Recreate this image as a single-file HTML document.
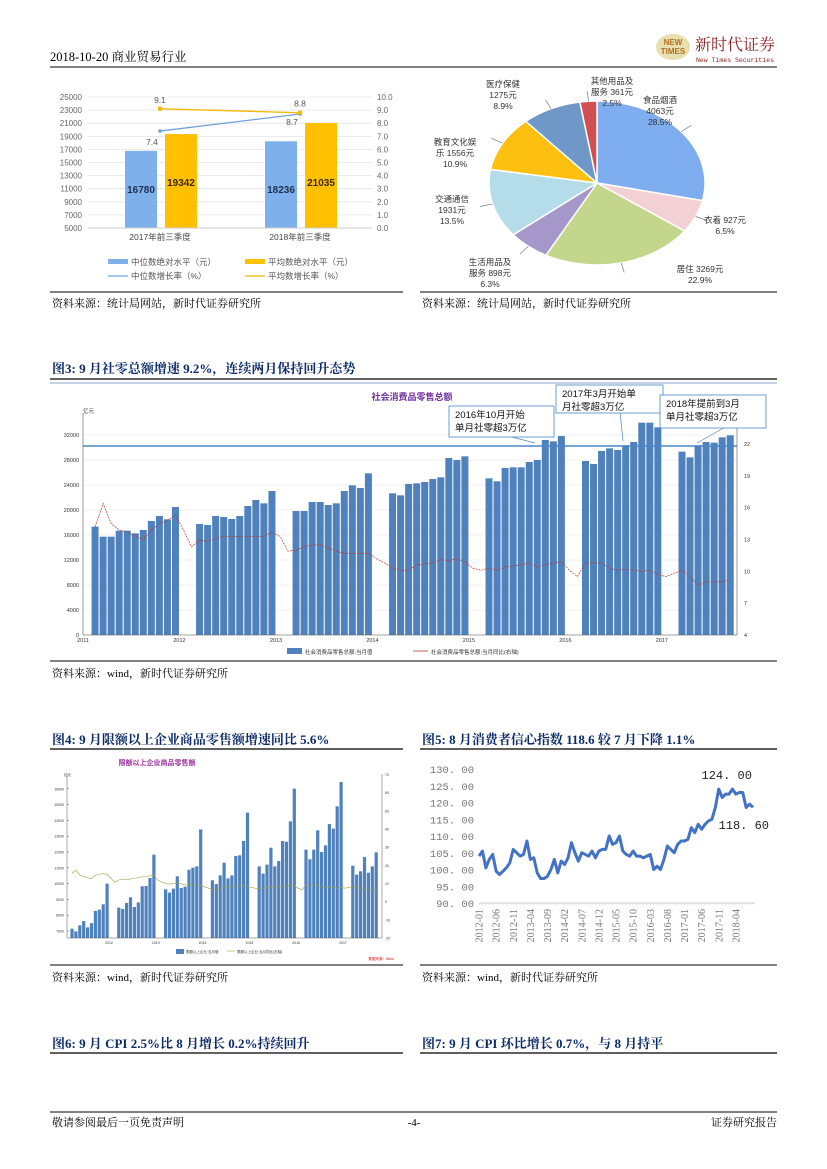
<!DOCTYPE html>
<html><head><meta charset="utf-8"><style>
html,body{margin:0;padding:0;background:#fff}
svg{display:block}
text{font-family:"Liberation Sans","Noto Sans CJK SC",sans-serif}
.serif{font-family:"Liberation Serif","Noto Serif CJK SC",serif}
</style></head><body>
<svg id="pg" width="827" height="1169" viewBox="0 0 827 1169" xmlns="http://www.w3.org/2000/svg">
<text x="50" y="61" font-size="12.5" fill="#000" class="serif">2018-10-20  商业贸易行业</text>
<g>
<ellipse cx="673" cy="47" rx="17" ry="13" fill="#e8dfb0"/>
<text x="673" y="45" font-size="8" fill="#b07020" text-anchor="middle" font-weight="bold">NEW</text>
<text x="673" y="54" font-size="8" fill="#b07020" text-anchor="middle" font-weight="bold">TIMES</text>
<text x="695" y="50" font-size="16" fill="#8b1a1a" class="serif">新时代证券</text>
<text x="696" y="62" font-size="6.5" fill="#8b1a1a" style="font-family:'Liberation Mono',monospace">New Times Securities</text>
</g>
<line x1="50" y1="67" x2="777" y2="67" stroke="#000" stroke-width="1"/>

<g id="c1"></g>
<g id="c2"></g>
<line x1="50" y1="292" x2="403" y2="292" stroke="#000"/>
<line x1="420" y1="292" x2="777" y2="292" stroke="#000"/>
<text x="52" y="307" font-size="11" class="serif">资料来源：统计局网站，新时代证券研究所</text>
<text x="422" y="307" font-size="11" class="serif">资料来源：统计局网站，新时代证券研究所</text>

<text x="52" y="373" font-size="13" font-weight="bold" fill="#0b2a6a" class="serif">图3:    9 月社零总额增速 9.2%，连续两月保持回升态势</text>
<line x1="50" y1="379" x2="777" y2="379" stroke="#000" stroke-width="1.2"/>
<g id="c3"></g>
<line x1="50" y1="661" x2="777" y2="661" stroke="#000"/>
<text x="52" y="677" font-size="11" class="serif">资料来源：wind，新时代证券研究所</text>

<text x="52" y="744" font-size="13" font-weight="bold" fill="#0b2a6a" class="serif">图4:    9 月限额以上企业商品零售额增速同比 5.6%</text>
<text x="422" y="744" font-size="13" font-weight="bold" fill="#0b2a6a" class="serif">图5:    8 月消费者信心指数 118.6 较 7 月下降 1.1%</text>
<line x1="50" y1="749" x2="403" y2="749" stroke="#000" stroke-width="1.2"/>
<line x1="420" y1="749" x2="777" y2="749" stroke="#000" stroke-width="1.2"/>
<g id="c4"></g>
<g id="c5"></g>
<line x1="50" y1="965" x2="403" y2="965" stroke="#000"/>
<line x1="420" y1="965" x2="777" y2="965" stroke="#000"/>
<text x="52" y="981" font-size="11" class="serif">资料来源：wind，新时代证券研究所</text>
<text x="422" y="981" font-size="11" class="serif">资料来源：wind，新时代证券研究所</text>

<text x="52" y="1048" font-size="13" font-weight="bold" fill="#0b2a6a" class="serif">图6:    9 月 CPI 2.5%比 8 月增长 0.2%持续回升</text>
<text x="422" y="1048" font-size="13" font-weight="bold" fill="#0b2a6a" class="serif">图7:    9 月 CPI 环比增长 0.7%，与 8 月持平</text>
<line x1="50" y1="1053" x2="403" y2="1053" stroke="#000" stroke-width="1.2"/>
<line x1="420" y1="1053" x2="777" y2="1053" stroke="#000" stroke-width="1.2"/>

<line x1="50" y1="1112" x2="777" y2="1112" stroke="#000"/>
<text x="52" y="1126" font-size="11" class="serif">敬请参阅最后一页免责声明</text>
<text x="414" y="1126" font-size="11" class="serif" text-anchor="middle">-4-</text>
<text x="777" y="1126" font-size="11" class="serif" text-anchor="end">证券研究报告</text>
</svg>
<script>
const c1Categories = ["2017年前三季度", "2018年前三季度"];
const c1Median = [16780, 18236];
const c1Mean = [19342, 21035];
const c1MedianGrowth = [7.4, 8.7];
const c1MeanGrowth = [9.1, 8.8];
const c1LeftTicks = [5000, 7000, 9000, 11000, 13000, 15000, 17000, 19000, 21000, 23000, 25000];
const c1RightTicks = [0, 1, 2, 3, 4, 5, 6, 7, 8, 9, 10];

const pieLabels = ["食品烟酒", "衣着", "居住", "生活用品及服务", "交通通信", "教育文化娱乐", "医疗保健", "其他用品及服务"];
const pieValues = [4063, 927, 3269, 898, 1931, 1556, 1275, 361];
const piePercents = ["28.5%", "6.5%", "22.9%", "6.3%", "13.5%", "10.9%", "8.9%", "2.5%"];

const c3Bars = [
 null,17333,15733,15733,16693,16693,16267,16800,18240,19040,18507,20480,
 null,null,17760,17600,19040,18880,18560,19040,20640,21600,21067,23040,
 null,null,19840,19840,21280,21280,20800,21067,23040,23947,23520,25867,
 null,null,22667,22347,24160,24267,24480,24960,25227,28320,28000,28587,
 null,null,25067,24587,26720,26827,26827,27680,28000,31200,30987,31840,
 null,null,27840,27360,29440,29867,29600,30347,30880,33973,33973,33227,
 null,null,29333,28427,30347,30880,30773,31627,31947];
const c3Line = [
 null,14.2,16.4,14.5,13.9,13.7,13.3,13.0,13.9,14.5,14.8,15.3,
 13.9,12.3,13.0,12.8,13.1,13.3,13.3,13.3,13.3,13.3,13.3,13.7,
 13.3,11.9,12.0,12.3,12.5,12.5,12.2,11.9,11.7,11.7,11.7,11.7,
 11.2,10.8,10.3,10.1,10.1,10.6,10.7,10.8,11.1,11.0,11.2,10.9,
 10.3,10.1,10.3,10.1,10.4,10.5,10.6,10.8,10.4,10.6,10.8,10.9,
 10.1,9.5,10.8,10.8,10.8,10.3,10.1,10.2,10.1,10.0,10.1,9.7,
 9.5,9.8,10.1,9.5,8.7,9.0,9.0,9.0,9.2];
const c3YearLabels = ["2011","2012","2013","2014","2015","2016","2017"];
const c3LeftTicks = [0,4000,8000,12000,16000,20000,24000,28000,32000];
const c3RightTicks = [4,7,10,13,16,19,22];

const c4Bars = [
 7150,6980,7360,7630,7230,7500,8270,8350,8690,10000,
 null,null,8480,8390,8770,9130,8520,8810,9830,9850,10350,11830,
 null,null,9640,9430,9680,10460,9720,9810,10880,11010,11090,13430,
 null,null,10210,9970,10520,11320,10330,10520,11750,11790,12700,14490,
 null,null,11090,10630,11200,12270,11090,11430,12700,12650,13940,16010,
 null,null,12150,11540,12150,13370,12000,12420,13770,13480,14890,16430,
 null,null,11130,10570,10780,11680,10690,11090,11980];
const c4Line = [
 15.6,17.4,14.6,13.7,13.2,12.5,14.6,15.0,15.4,15.0,
 12.8,10.7,11.9,12.5,12.1,12.5,12.8,13.2,13.7,13.7,14.3,14.6,
 11.9,10.7,10.1,9.6,10.1,10.3,9.8,9.2,9.2,9.2,9.2,8.9,
 8.1,7.4,6.5,7.1,7.4,7.8,8.1,8.3,8.3,8.7,8.7,8.3,
 7.8,7.4,7.1,7.4,7.8,8.0,8.0,8.5,8.3,8.7,9.2,8.9,
 7.4,6.5,9.2,9.2,9.2,8.9,8.3,7.8,7.8,7.8,7.4,7.8,
 7.4,7.8,8.3,7.8,7.4,6.5,6.1,6.5,6.5];
const c4YearLabels = ["2012","2013","2014","2015","2016","2017"];
const c4LeftTicks = [7000,8000,9000,10000,11000,12000,13000,14000,15000,16000];
const c4RightTicks = [-20,-10,0,10,20,30,40,50,60,70];

const c5Values = [
 104,105.5,100.5,103,104.5,99.5,98.5,99.5,100.5,102,106,105,
 104,104.5,108.5,103,103.5,99,97.3,97.3,98,100,103,99,
 102.5,101.5,103.5,108,105,102.5,105,104.5,104,105.5,103.5,105.5,
 106,106,110,107.5,108,110,105.5,104.5,104,105.5,104,104,
 103.5,104,104.5,100,101,100,103,107,106,105,107.5,108.5,
 108.5,109,112.5,111,113.5,112,113.5,114.5,115,118.5,124,121.5,
 122.5,122.5,124,122.5,123,123,118.5,119.5,118.6];
const c5XLabels = ["2012-01","2012-06","2012-11","2013-04","2013-09","2014-02","2014-07","2014-12","2015-05","2015-10","2016-03","2016-08","2017-01","2017-06","2017-11","2018-04"];
const c5YTicks = [90,95,100,105,110,115,120,125,130];

const NS = "http://www.w3.org/2000/svg";
function mk(parent, tag, attrs, txt){
  const e = document.createElementNS(NS, tag);
  for (const k in attrs) e.setAttribute(k, attrs[k]);
  if (txt !== undefined) e.textContent = txt;
  parent.appendChild(e);
  return e;
}

(function(){
  const g = document.getElementById('c1');
  const y = v => 228 - (v - 5000) / 20000 * 131;
  const yr = v => 228 - v / 10 * 131;
  const cx = i => 160 + i * 140;
  c1LeftTicks.forEach(t => {
    const l = mk(g,'line',{x1:88,x2:372,y1:y(t),y2:y(t),stroke:'#e4e4e4','stroke-width':0.8});
    
    
    const tx = mk(g,'text',{x:82,y:y(t)+3,'font-size':8,'text-anchor':'end',fill:'#666'},String(t));
    
    
  });
  c1RightTicks.forEach(t => {
    const tx = mk(g,'text',{x:377,y:yr(t)+3,'font-size':8,fill:'#666'},t.toFixed(1));
    
    
  });
  c1Categories.forEach((c,i) => {
    const b1 = mk(g,'rect',{x:cx(i)-35,y:y(c1Median[i]),width:32,height:228-y(c1Median[i]),fill:'#7eb0ec'});
    
    
    const b2 = mk(g,'rect',{x:cx(i)+5,y:y(c1Mean[i]),width:32,height:228-y(c1Mean[i]),fill:'#ffc000'});
    
    
    const t1 = mk(g,'text',{x:cx(i)-19,y:193,'font-size':10,'font-weight':'bold','text-anchor':'middle',fill:'#1f2f4f'},String(c1Median[i]));
    
    
    const t2 = mk(g,'text',{x:cx(i)+21,y:186,'font-size':10,'font-weight':'bold','text-anchor':'middle',fill:'#3a2a00'},String(c1Mean[i]));
    
    
    const cl = mk(g,'text',{x:cx(i),y:240,'font-size':8.5,'text-anchor':'middle',fill:'#444'},c);
    
    
  });
  const ax = mk(g,'line',{x1:88,x2:372,y1:228,y2:228,stroke:'#ccc'});
  
  
  const p1 = c1MedianGrowth.map((v,i)=>`${cx(i)},${yr(v)}`).join(' ');
  const p2 = c1MeanGrowth.map((v,i)=>`${cx(i)},${yr(v)}`).join(' ');
  const l1 = mk(g,'polyline',{points:p1,fill:'none',stroke:'#6fa0dc','stroke-width':1.3});
  
  
  const l2 = mk(g,'polyline',{points:p2,fill:'none',stroke:'#f4b800','stroke-width':1.3});
  
  
  c1MedianGrowth.forEach((v,i)=>{
    const m = mk(g,'circle',{cx:cx(i),cy:yr(v),r:1.8,fill:'#6fa0dc'});
    
    
    const t = mk(g,'text',{x:cx(i)-8,y:yr(v)+ (i==0?14:11),'font-size':8.5,'text-anchor':'middle',fill:'#555'},v.toFixed(1));
    
    
  });
  c1MeanGrowth.forEach((v,i)=>{
    const m = mk(g,'rect',{x:cx(i)-2,y:yr(v)-2,width:4,height:4,fill:'#f4b800'});
    
    
    const t = mk(g,'text',{x:cx(i),y:yr(v)-6,'font-size':8.5,'text-anchor':'middle',fill:'#555'},v.toFixed(1));
    
    
  });
  const leg = [
    ['rect','#7eb0ec',108,262,'中位数绝对水平（元）'],
    ['rect','#ffc000',245,262,'平均数绝对水平（元）'],
    ['line','#6fa0dc',108,276,'中位数增长率（%）'],
    ['line','#f4b800',245,276,'平均数增长率（%）']];
  leg.forEach(L=>{
    let s;
    if (L[0]==='rect') s = mk(g,'rect',{x:L[2],y:L[3]-3,width:20,height:5,fill:L[1]});
    else s = mk(g,'line',{x1:L[2],x2:L[2]+20,y1:L[3],y2:L[3],stroke:L[1],'stroke-width':1.3});
    
    
    const t = mk(g,'text',{x:L[2]+23,y:L[3]+3,'font-size':8.5,fill:'#555'},L[4]);
    
    
  });
})();

(function(){
  const g = document.getElementById('c2');
  const colors = ['#7eaef0','#f2d0d4','#c4d68c','#a597c9','#b5dde9','#fdc010','#6f97c8','#d24e50'];
  const cx=597, cy=183, rx=108, ry=82;
  const total = pieValues.reduce((a,b)=>a+b,0);
  let a0 = -Math.PI/2;
  const labelPos = [[660,103,'食品烟酒','4063元'],[725,223,'衣着 927元',''],[700,272,'居住 3269元',''],[490,265,'生活用品及','服务 898元'],[452,202,'交通通信','1931元'],[455,145,'教育文化娱','乐 1556元'],[503,87,'医疗保健','1275元'],[612,84,'其他用品及','服务 361元']];
  pieValues.forEach((v,i)=>{
    const a1 = a0 + v/total*2*Math.PI;
    const x0=cx+rx*Math.cos(a0), y0=cy+ry*Math.sin(a0), x1=cx+rx*Math.cos(a1), y1=cy+ry*Math.sin(a1);
    const large = (a1-a0)>Math.PI?1:0;
    const p = mk(g,'path',{d:`M${cx},${cy} L${x0},${y0} A${rx},${ry} 0 ${large} 1 ${x1},${y1} Z`,fill:colors[i],stroke:'#fff','stroke-width':1.5});
    
    
    const am=(a0+a1)/2;
    const ex=cx+rx*Math.cos(am), ey=cy+ry*Math.sin(am);
    const L = labelPos[i];
    const ln = mk(g,'line',{x1:ex,y1:ey,x2:ex+(ex-cx)*0.12,y2:ey+(ey-cy)*0.12,stroke:'#777','stroke-width':0.7});
    
    
    const t = mk(g,'text',{x:L[0],y:L[1],'font-size':8.5,'text-anchor':'middle',fill:'#333'});
    
    
    const lines = [L[2]]; if (L[3]) lines.push(L[3]); lines.push(piePercents[i]);
    lines.forEach((s,k)=>{ mk(t,'tspan',{x:L[0],dy:k?11:0},s); });
    a0 = a1;
  });
})();

(function(){
  const g = document.getElementById('c3');
  const x0=83, step=8.04, yb=635;
  const y = v => yb - v/32000*200;
  const yr = v => yb - (v-4)/18*191;
  const bx = i => x0 + (i+0.5)*step;
  mk(g,'line',{x1:50,x2:777,y1:383,y2:383,stroke:'#8aa6c8','stroke-width':1});
  c3LeftTicks.forEach(t=>{
    const l = mk(g,'line',{x1:x0,x2:737,y1:y(t),y2:y(t),stroke:'#eee','stroke-width':0.7});
    
    
    const tx = mk(g,'text',{x:x0-4,y:y(t)+2,'font-size':5.5,'text-anchor':'end',fill:'#333'},String(t));
    
    
  });
  c3RightTicks.forEach(t=>{
    const tx = mk(g,'text',{x:744,y:yr(t)+2,'font-size':5.5,fill:'#333'},String(t));
    
    
  });
  mk(g,'text',{x:x0,y:413,'font-size':5.5,fill:'#333'},'亿元');
  c3Bars.forEach((v,i)=>{
    if (v===null) return;
    const r = mk(g,'rect',{x:bx(i)-3.5,y:y(v),width:7,height:yb-y(v),fill:'#4f81bd'});
    
    
  });
  const pts=[]; c3Line.forEach((v,i)=>{ if(v!==null) pts.push(`${bx(i)},${yr(v)}`); });
  const pl = mk(g,'polyline',{points:pts.join(' '),fill:'none',stroke:'#c0392b','stroke-width':0.7,'stroke-dasharray':'2,1'});
  
  
  mk(g,'line',{x1:x0,x2:x0,y1:413,y2:yb,stroke:'#555','stroke-width':0.6});
  mk(g,'line',{x1:737,x2:737,y1:413,y2:yb,stroke:'#555','stroke-width':0.6});
  mk(g,'line',{x1:x0,x2:737,y1:yb,y2:yb,stroke:'#555','stroke-width':0.6});
  c3YearLabels.forEach((s,k)=>{
    const t = mk(g,'text',{x:x0+k*12*step,y:yb+7,'font-size':5.5,'text-anchor':'middle',fill:'#333'},s);
    
    
  });
  const ref = mk(g,'line',{x1:x0,x2:737,y1:446,y2:446,stroke:'#4a86c5','stroke-width':1.5});
  
  
  const title = mk(g,'text',{x:412,y:400,'font-size':9,'font-weight':'bold','text-anchor':'middle',fill:'#7030a0'},'社会消费品零售总额');
  
  
  const boxes=[[449,406,105,31,'2016年10月开始','单月社零超3万亿',535,443],[556,385,107,28,'2017年3月开始单','月社零超3万亿',623,441],[660,395,106,33,'2018年提前到3月','单月社零超3万亿',697,443]];
  boxes.forEach(b=>{
    const bg = mk(g,'g',{});
    
    
    mk(bg,'line',{x1:b[0]+b[2]*0.6,y1:b[1]+b[3],x2:b[6],y2:b[7],stroke:'#4a86c5','stroke-width':0.7});
    mk(bg,'rect',{x:b[0],y:b[1],width:b[2],height:b[3],fill:'#fff',stroke:'#4a86c5','stroke-width':0.8});
    mk(bg,'text',{x:b[0]+6,y:b[1]+12,'font-size':9.5,fill:'#111'},b[4]);
    mk(bg,'text',{x:b[0]+6,y:b[1]+25,'font-size':9.5,fill:'#111'},b[5]);
  });
  const lg1 = mk(g,'rect',{x:287,y:648,width:15,height:6,fill:'#4f81bd'});
  
  
  const lt1 = mk(g,'text',{x:305,y:654,'font-size':5.5,fill:'#333'},'社会消费品零售总额:当月值');
  
  
  const lg2 = mk(g,'line',{x1:413,x2:428,y1:651,y2:651,stroke:'#c0392b','stroke-width':0.8});
  
  
  const lt2 = mk(g,'text',{x:431,y:654,'font-size':5.5,fill:'#333'},'社会消费品零售总额:当月同比(右轴)');
  
  
})();

(function(){
  const g = document.getElementById('c4');
  const step=3.9, yb=938;
  const y = v => 931 - (v-7000)/1000*15.8;
  const yr = v => yb - (v+20)/90*163.6;
  const bx = i => 72 + i*step;
  const title = mk(g,'text',{x:157,y:765,'font-size':7,'font-weight':'bold','text-anchor':'middle',fill:'#9b30a0'},'限额以上企业商品零售额');
  
  
  c4LeftTicks.forEach(t=>{
    const l = mk(g,'line',{x1:67,x2:69,y1:y(t),y2:y(t),stroke:'#555','stroke-width':0.5});
    
    
    const tx = mk(g,'text',{x:64,y:y(t)+1.5,'font-size':3.5,'text-anchor':'end',fill:'#333'},String(t));
    
    
  });
  c4RightTicks.forEach(t=>{
    const tx = mk(g,'text',{x:385,y:yr(t)+1.5,'font-size':3.5,fill:'#333'},String(t));
    
    
  });
  mk(g,'text',{x:64,y:776,'font-size':3.5,fill:'#333'},'亿元');
  c4Bars.forEach((v,i)=>{
    if (v===null) return;
    const r = mk(g,'rect',{x:bx(i)-1.6,y:y(v),width:3.2,height:yb-y(v),fill:'#4f81bd'});
    
    
  });
  const pts=c4Line.map((v,i)=>`${bx(i)},${yr(v)}`).join(' ');
  const pl = mk(g,'polyline',{points:pts,fill:'none',stroke:'#9aa64a','stroke-width':0.6});
  
  
  mk(g,'line',{x1:67,x2:67,y1:774,y2:yb,stroke:'#555','stroke-width':0.5});
  mk(g,'line',{x1:382,x2:382,y1:774,y2:yb,stroke:'#555','stroke-width':0.5});
  mk(g,'line',{x1:67,x2:382,y1:yb,y2:yb,stroke:'#555','stroke-width':0.5});
  c4YearLabels.forEach((s,k)=>{
    const t = mk(g,'text',{x:109+k*12*step,y:yb+6,'font-size':3.5,'text-anchor':'middle',fill:'#333'},s);
    
    
  });
  const s1 = mk(g,'rect',{x:176,y:949,width:8,height:5,fill:'#4f81bd'});
  
  
  const e1 = mk(g,'text',{x:186,y:953,'font-size':3.5,fill:'#333'},'限额以上企业:当月值');
  
  
  const s2 = mk(g,'line',{x1:227,x2:235,y1:951,y2:951,stroke:'#9aa64a','stroke-width':0.6});
  
  
  const e2 = mk(g,'text',{x:237,y:953,'font-size':3.5,fill:'#333'},'限额以上企业:当月同比(右轴)');
  
  
  mk(g,'text',{x:394,y:960,'font-size':3.5,'text-anchor':'end',fill:'#d00'},'数据来源：Wind');
})();

(function(){
  const g = document.getElementById('c5');
  const x0=479, x1=753, y0=903;
  const step=(x1-x0)/(c5Values.length-1);
  const y = v => y0 - (v-90)/40*134;
  const x = i => x0 + i*step;
  const serif = "font-family:'Liberation Serif',serif";
  const mono = "font-family:'Liberation Mono',monospace";
  c5YTicks.forEach(t=>{
    const tx = mk(g,'text',{x:474,y:y(t)+4,'font-size':10.5,'text-anchor':'end',fill:'#777',style:mono},t.toFixed(2).replace('.','. '));
    
    
  });
  mk(g,'line',{x1:x0,x2:x1+2,y1:y0,y2:y0,stroke:'#bbb','stroke-width':0.8});
  c5Values.forEach((v,i)=>{ mk(g,'line',{x1:x(i),x2:x(i),y1:y0,y2:y0+2,stroke:'#bbb','stroke-width':0.4}); });
  c5XLabels.forEach((s,k)=>{
    const i = k*5;
    const t = mk(g,'text',{x:0,y:0,'font-size':10,'text-anchor':'end',fill:'#777',style:serif,transform:`translate(${x(i)+3.5},${y0+6}) rotate(-90)`},s);
    
    
  });
  const pts=c5Values.map((v,i)=>`${x(i)},${y(v)}`).join(' ');
  const pl = mk(g,'polyline',{points:pts,fill:'none',stroke:'#4472c4','stroke-width':3,'stroke-linejoin':'round'});
  
  
  const maxV = Math.max(...c5Values), lastV = c5Values[c5Values.length-1];
  const a1 = mk(g,'text',{x:x(c5Values.indexOf(maxV))+8,y:y(maxV)-10,'font-size':12,'text-anchor':'middle',fill:'#222',style:mono},maxV.toFixed(2).replace('.','. '));
  
  
  const a2 = mk(g,'text',{x:x(c5Values.length-1)+16,y:y(lastV)+22,'font-size':12,'text-anchor':'end',fill:'#222',style:mono},lastV.toFixed(2).replace('.','. '));
  
  
})();
</script>
</body></html>
